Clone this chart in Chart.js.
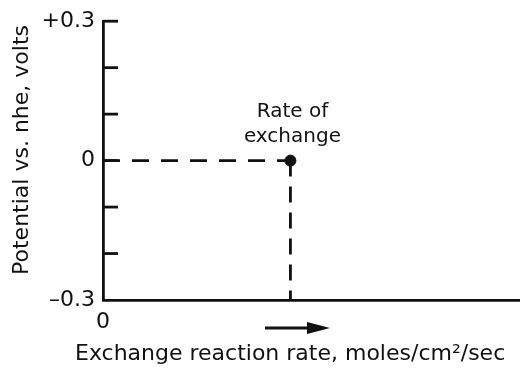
<!DOCTYPE html>
<html>
<head>
<meta charset="utf-8">
<script src="https://cdn.jsdelivr.net/npm/chart.js@4/dist/chart.umd.min.js"></script>
<style>
  html, body { margin: 0; padding: 0; background: #fff; overflow: hidden; }
  #wrap { width: 526px; height: 369px; }
</style>
</head>
<body>
<div id="wrap"><canvas id="chart" width="526" height="369"></canvas></div>
<script>
// Exchange current diagram: equilibrium potential against exchange reaction rate
const exchangeRate = [0.45];          // exchange reaction rate (relative scale)
const equilibriumPotential = [0];     // potential vs. nhe, volts
const potentialTicks = [0.3, 0.2, 0.1, 0, -0.1, -0.2, -0.3];
const potentialTickLabels = ['+0.3', '', '', '0', '', '', '\u20130.3'];
const rateTicks = [0];
const rateTickLabels = ['0'];
const annotationLines = ['Rate of', 'exchange'];
const xTitle = 'Exchange reaction rate, moles/cm\u00B2/sec';
const yTitle = 'Potential vs. nhe, volts';

const FONT = "'DejaVu Sans', sans-serif";
const INK = '#111';
const Y_MIN = -0.3, Y_MAX = 0.3;
const LINE_W = 2.8;

const r = exchangeRate[0];
const p = equilibriumPotential[0];

// Inward tick marks, axis captions, direction arrow and the point annotation
const sketchMarks = {
  id: 'sketchMarks',
  afterDraw(chart) {
    const { ctx, chartArea, scales } = chart;
    const xs = scales.x, ys = scales.y;
    ctx.save();
    ctx.strokeStyle = INK;
    ctx.fillStyle = INK;
    ctx.lineWidth = LINE_W;

    // ticks pointing into the plot
    potentialTicks.forEach(v => {
      if (v === Y_MIN) return;
      const y = ys.getPixelForValue(v);
      ctx.beginPath();
      ctx.moveTo(chartArea.left, y);
      ctx.lineTo(chartArea.left + 15, y);
      ctx.stroke();
    });

    // label above the exchange point
    const px = xs.getPixelForValue(r);
    const py = ys.getPixelForValue(p);
    ctx.font = '20px ' + FONT;
    ctx.textAlign = 'center';
    ctx.textBaseline = 'alphabetic';
    ctx.fillText(annotationLines[0], px + 2, py - 44);
    ctx.fillText(annotationLines[1], px + 2, py - 19);

    // arrow showing increasing rate
    const ay = chartArea.bottom + 28;
    const ax0 = chartArea.left + 162, ax1 = chartArea.left + 227;
    ctx.lineWidth = 3;
    ctx.beginPath();
    ctx.moveTo(ax0, ay);
    ctx.lineTo(ax1 - 18, ay);
    ctx.stroke();
    ctx.beginPath();
    ctx.moveTo(ax1, ay);
    ctx.lineTo(ax1 - 23, ay - 6);
    ctx.lineTo(ax1 - 23, ay + 6);
    ctx.closePath();
    ctx.fill();

    // x-axis caption
    ctx.font = '22px ' + FONT;
    ctx.textAlign = 'left';
    ctx.textBaseline = 'alphabetic';
    ctx.fillText(xTitle, 75, chartArea.bottom + 60);

    // y-axis caption, reading upward
    ctx.translate(22, 150);
    ctx.rotate(-Math.PI / 2);
    ctx.textAlign = 'center';
    ctx.textBaseline = 'middle';
    ctx.fillText(yTitle, 0, 0);
    ctx.restore();
  }
};

new Chart(document.getElementById('chart'), {
  type: 'scatter',
  data: {
    datasets: [
      {
        label: 'potential',
        data: [{ x: 0, y: p }, { x: r, y: p }],
        showLine: true,
        borderColor: INK,
        borderWidth: LINE_W,
        borderDash: [17, 12],
        pointRadius: 0,
        clip: false
      },
      {
        label: 'rate',
        data: [{ x: r, y: p }, { x: r, y: Y_MIN }],
        showLine: true,
        borderColor: INK,
        borderWidth: LINE_W,
        borderDash: [16, 10],
        pointRadius: 0,
        clip: false
      },
      {
        label: 'exchange point',
        data: [{ x: r, y: p }],
        pointRadius: 5.5,
        pointBackgroundColor: INK,
        pointBorderColor: INK,
        clip: false
      }
    ]
  },
  options: {
    responsive: false,
    animation: false,
    events: [],
    layout: { padding: { top: 15, right: 0, left: 0, bottom: 0 } },
    plugins: { legend: { display: false }, tooltip: { enabled: false } },
    scales: {
      x: {
        type: 'linear',
        min: 0,
        max: 1,
        afterBuildTicks: s => { s.ticks = rateTicks.map(v => ({ value: v })); },
        afterFit: s => { s.height = 69; },
        ticks: {
          callback: (v) => rateTickLabels[rateTicks.indexOf(v)] ?? '',
          font: { family: FONT, size: 22 },
          color: INK,
          padding: 9,
          maxRotation: 0,
          autoSkip: false
        },
        grid: { display: false, drawTicks: false },
        border: { display: true, color: INK, width: LINE_W }
      },
      y: {
        type: 'linear',
        min: Y_MIN,
        max: Y_MAX,
        afterBuildTicks: s => { s.ticks = potentialTicks.map(v => ({ value: v })); },
        afterFit: s => { s.width = 103; },
        ticks: {
          callback: (v) => {
            const i = potentialTicks.findIndex(t => Math.abs(t - v) < 1e-9);
            return i >= 0 ? potentialTickLabels[i] : '';
          },
          font: { family: FONT, size: 22 },
          color: INK,
          padding: 8,
          autoSkip: false
        },
        grid: { display: false, drawTicks: false },
        border: { display: true, color: INK, width: LINE_W }
      }
    }
  },
  plugins: [sketchMarks]
});
</script>
</body>
</html>
